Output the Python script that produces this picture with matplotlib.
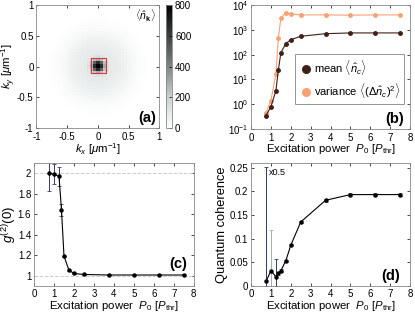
import numpy as np
import matplotlib
matplotlib.use('Agg')
import matplotlib.pyplot as plt
from matplotlib.patches import Rectangle
from matplotlib.colors import LinearSegmentedColormap

plt.rcParams['font.family'] = ['Liberation Sans', 'DejaVu Sans']
plt.rcParams['mathtext.fontset'] = 'custom'
plt.rcParams['mathtext.rm'] = 'Liberation Sans'
plt.rcParams['mathtext.it'] = 'Liberation Sans:italic'
plt.rcParams['mathtext.bf'] = 'Liberation Sans:bold'
plt.rcParams['font.size'] = 7
plt.rcParams['axes.labelsize'] = 8.2
plt.rcParams['axes.edgecolor'] = '#888888'
plt.rcParams['axes.linewidth'] = 0.6
plt.rcParams['xtick.direction'] = 'in'
plt.rcParams['ytick.direction'] = 'in'
plt.rcParams['xtick.major.size'] = 2
plt.rcParams['ytick.major.size'] = 2
plt.rcParams['xtick.major.width'] = 0.5
plt.rcParams['ytick.major.width'] = 0.5
plt.rcParams['xtick.major.pad'] = 2.5
plt.rcParams['ytick.major.pad'] = 2
plt.rcParams['xtick.top'] = True
plt.rcParams['ytick.right'] = True

# power values
power = [0.75, 1.0, 1.25, 1.375, 1.5, 1.75, 2.0, 2.5, 3.75, 5.0, 6.25, 7.5]

# (b) mean and variance of condensate occupation
mean_nc = [0.35, 0.8, 3.5, 25, 120, 280, 400, 550, 700, 750, 750, 750]
var_nc = [0.45, 1.4, 17, 480, 3000, 4900, 4400, 4000, 4000, 3900, 4000, 4000]

# (c) g2(0)
g2 = [2.0, 1.99, 1.97, 1.64, 1.19, 1.05, 1.02, 1.01, 1.005, 1.005, 1.005, 1.005]
g2_err = [0.17, 0.1, 0.095, 0.06, 0.005, 0.004, 0.003, 0.003, 0.002, 0.002, 0.002, 0.002]

# (d) quantum coherence
qc = [0.009, 0.032, 0.019, 0.026, 0.032, 0.053, 0.086, 0.135, 0.181, 0.193, 0.193, 0.193]
qc_err_lo = [0.009, 0.032, 0.019, 0.003, 0.003, 0.002, 0.002, 0.002, 0.003, 0.003, 0.003, 0.004]
qc_err_hi = [0.243, 0.086, 0.037, 0.003, 0.003, 0.002, 0.002, 0.002, 0.003, 0.003, 0.003, 0.004]

# (a) momentum distribution: peak + halo parameters
peak_height = 800
peak_width = 0.06
halo_height = 95
halo_radius = 0.55
ngrid = 41

fig = plt.figure(figsize=(4.15, 3.14), dpi=100)
xlab = r'Excitation power  $P_0$ [$P_{\rm thr}$]'

# ---- (a)
ax_a = fig.add_axes([0.084, 0.592, 0.304, 0.392])
k = np.linspace(-1, 1, ngrid)
kx, ky = np.meshgrid(k, k)
r = np.sqrt(kx**2 + ky**2)
img = peak_height * np.exp(-r**2 / (2 * peak_width**2)) + halo_height * np.exp(-(r / halo_radius)**3)
cmap = LinearSegmentedColormap.from_list('tgray', ['#ffffff', '#c9d1d0', '#7d8786', '#3c4141', '#000000'])
im = ax_a.imshow(img, extent=[-1, 1, -1, 1], origin='lower', cmap=cmap,
                 vmin=0, vmax=800, interpolation='nearest')
ax_a.add_patch(Rectangle((-0.12, -0.11), 0.25, 0.25, fill=False, ec='#e8303a', lw=0.8))
ax_a.set_xticks([-1, -0.5, 0, 0.5, 1])
ax_a.set_yticks([-1, -0.5, 0, 0.5, 1])
ax_a.set_xticklabels(['-1', '-0.5', '0', '0.5', '1'])
ax_a.set_yticklabels(['-1', '-0.5', '0', '0.5', '1'])
ax_a.set_xlabel(r'$k_x$ [$\mu$m$^{-1}$]', labelpad=0)
ax_a.set_ylabel(r'$k_y$ [$\mu$m$^{-1}$]', labelpad=-1)
ax_a.text(0.97, 0.91, r'$\langle\hat{n}_{\mathbf{k}}\rangle$', transform=ax_a.transAxes, ha='right', va='center', fontsize=7.5)
ax_a.text(0.97, 0.08, '(a)', transform=ax_a.transAxes, ha='right', va='center', fontsize=10.5, fontweight='bold')
cax = fig.add_axes([0.4, 0.592, 0.015, 0.392])
cb = fig.colorbar(im, cax=cax, ticks=[0, 200, 400, 600, 800])
cb.outline.set_edgecolor('#888888')
cb.outline.set_linewidth(0.6)
cax.tick_params(length=2, right=True, left=False)

# ---- (b)
ax_b = fig.add_axes([0.605, 0.589, 0.383, 0.395])
ax_b.plot(power, var_nc, '-o', color='#f7a274', ms=2.5, lw=0.8)
ax_b.plot(power, mean_nc, '-o', color='#3e2018', ms=2.5, lw=0.8)
ax_b.scatter([], [], color='#3e2018', s=30, label=r'mean $\langle\hat{n}_c\rangle$')
ax_b.scatter([], [], color='#f7a274', s=30, label=r'variance $\langle(\Delta\hat{n}_c)^2\rangle$')
ax_b.set_yscale('log')
ax_b.set_ylim(0.1, 1e4)
ax_b.set_xlim(0, 8)
ax_b.set_xticks(range(9))
ax_b.minorticks_off()
ax_b.set_xlabel(xlab, labelpad=-0.5)
leg = ax_b.legend(loc='lower right', bbox_to_anchor=(0.965, 0.205), fontsize=8,
                  handletextpad=0.1, borderpad=0.35, fancybox=False, edgecolor='#666666',
                  handlelength=1.3, labelspacing=0.35, borderaxespad=0)
leg.get_frame().set_linewidth(0.6)
ax_b.text(0.965, 0.085, '(b)', transform=ax_b.transAxes, ha='right', va='center', fontsize=10.5, fontweight='bold')

# ---- (c)
ax_c = fig.add_axes([0.082, 0.09, 0.385, 0.391])
ax_c.axhline(2, color='#cccccc', ls='--', lw=0.7)
ax_c.axhline(1, color='#cccccc', ls='--', lw=0.7)
ax_c.errorbar(power, g2, yerr=g2_err, fmt='-o', color='black', ecolor='#3a3a6e',
              ms=2.2, lw=0.8, elinewidth=0.7, capsize=1.5, capthick=0.6)
ax_c.set_xlim(0, 8)
ax_c.set_ylim(0.9, 2.1)
ax_c.set_xticks(range(9))
ax_c.set_yticks([1, 1.2, 1.4, 1.6, 1.8, 2])
ax_c.set_yticklabels(['1', '1.2', '1.4', '1.6', '1.8', '2'])
ax_c.set_xlabel(xlab, labelpad=-0.5)
ax_c.set_ylabel(r'$g^{(2)}(0)$', fontsize=9.5, labelpad=-1)
ax_c.text(0.96, 0.18, '(c)', transform=ax_c.transAxes, ha='right', va='center', fontsize=10.5, fontweight='bold')

# ---- (d)
ax_d = fig.add_axes([0.605, 0.09, 0.383, 0.391])
ecols = ['#2e3d5e', '#aaaaaa', '#2e3d5e'] + ['#555555'] * 9
ax_d.plot(power, qc, '-o', color='black', ms=2.2, lw=0.8, zorder=3)
for i in range(len(power)):
    ax_d.errorbar(power[i], qc[i], yerr=[[qc_err_lo[i]], [qc_err_hi[i]]], fmt='none',
                  ecolor=ecols[i], elinewidth=0.7, capsize=1.5, capthick=0.6)
ax_d.text(0.9, 0.239, 'x0.5', fontsize=6.5, va='center')
ax_d.set_xlim(0, 8)
ax_d.set_ylim(0, 0.26)
ax_d.set_xticks(range(9))
ax_d.set_yticks([0, 0.05, 0.1, 0.15, 0.2, 0.25])
ax_d.set_yticklabels(['0', '0.05', '0.1', '0.15', '0.2', '0.25'])
ax_d.set_xlabel(xlab, labelpad=-0.5)
ax_d.set_ylabel('Quantum coherence', fontsize=9.3, labelpad=1)
ax_d.text(0.935, 0.077, '(d)', transform=ax_d.transAxes, ha='right', va='center', fontsize=10.5, fontweight='bold')

fig.savefig('out.png', dpi=100)
